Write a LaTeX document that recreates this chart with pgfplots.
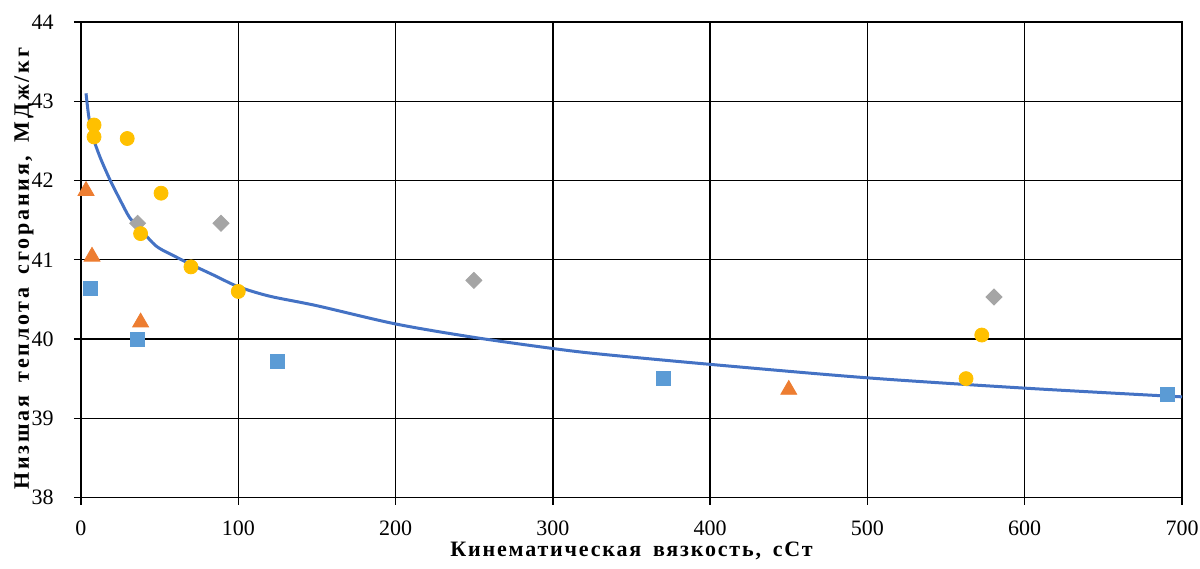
\documentclass[border=0pt]{standalone}
\usepackage{fontspec}
\setmainfont{Liberation Serif}
\newfontfamily\xlblfam[LetterSpace=8.3,WordSpace=1.6]{Liberation Serif}
\newfontfamily\ylblfam[LetterSpace=12.7,WordSpace=1.6]{Liberation Serif}
\usepackage{pgfplots}
\pgfplotsset{compat=1.18}
\definecolor{fitblue}{HTML}{4472C4}
\definecolor{cyellow}{HTML}{FFC000}
\definecolor{corange}{HTML}{ED7D31}
\definecolor{cblue}{HTML}{5B9BD5}
\definecolor{cgray}{HTML}{A5A5A5}
\begin{document}
\begin{tikzpicture}
\begin{axis}[
  at={(0,0)}, anchor=south west,
  scale only axis,
  width=550.5pt, height=237.75pt,
  xmin=0, xmax=700, ymin=38, ymax=44,
  xtick distance=100, ytick distance=1,
  grid=major,
  major grid style={black, line width=0.7pt},
  axis line style={black, line width=0.7pt},
  tick style={black, line width=0.7pt},
  tick align=outside, tick pos=left,
  major tick length=3.5pt,
  /pgf/number format/assume math mode=true,
  tick label style={font=\fontsize{11}{12}\selectfont},
  yticklabel style={inner sep=0pt, xshift=-10pt},
  xticklabel style={inner sep=0pt, yshift=-8pt},
  xlabel={Кинематическая вязкость, сСт},
  ylabel={Низшая теплота сгорания, МДж/кг},
  xlabel style={at={(axis description cs:0.5,0)}, anchor=base, inner sep=0pt, yshift=-29.65pt, font=\fontsize{11}{12}\selectfont\xlblfam\bfseries},
  ylabel style={at={(axis description cs:0,0.481)}, anchor=base, inner sep=0pt, yshift=26pt, font=\fontsize{11}{12}\selectfont\ylblfam\bfseries},
  clip=true,
]
\addplot[fitblue, line width=1.5pt, smooth, no marks] coordinates {
  (3.2,43.10) (5,42.80) (7.8,42.54) (12,42.30) (18.4,42.01) (25,41.75)
  (31,41.53) (38,41.38) (48,41.17) (60,41.04) (70,40.94) (85,40.80)
  (100,40.66) (120,40.54) (150,40.42) (200,40.19) (250,40.02) (300,39.88)
  (330,39.81) (400,39.68) (500,39.51) (600,39.38) (700,39.27)
};
\addplot[only marks, mark=square*, mark size=2.83pt, color=cgray, mark options={rotate=45}] coordinates {
  (36,41.46) (89,41.46) (249.8,40.74) (580.5,40.53)
};
\addplot[only marks, mark=square*, mark size=3.5pt, color=cblue] coordinates {
  (5.7,40.64) (36,40.00) (124.8,39.72) (370.2,39.50) (690.7,39.30)
};
\addplot[only marks, mark=triangle*, mark size=4.6pt, color=corange] coordinates {
  (3.2,41.87) (7.0,41.04) (37.9,40.21) (450,39.36)
};
\addplot[only marks, mark=*, mark size=3.5pt, color=cyellow] coordinates {
  (8.3,42.70) (8.3,42.55) (29.4,42.53) (50.9,41.84) (37.9,41.33)
  (69.9,40.91) (100,40.60) (562.7,39.50) (572.7,40.05)
};
\end{axis}
\pgfresetboundingbox
\path[use as bounding box] (-40.5pt,-35.25pt) rectangle (559.5pt,248.75pt);
\end{tikzpicture}
\end{document}
